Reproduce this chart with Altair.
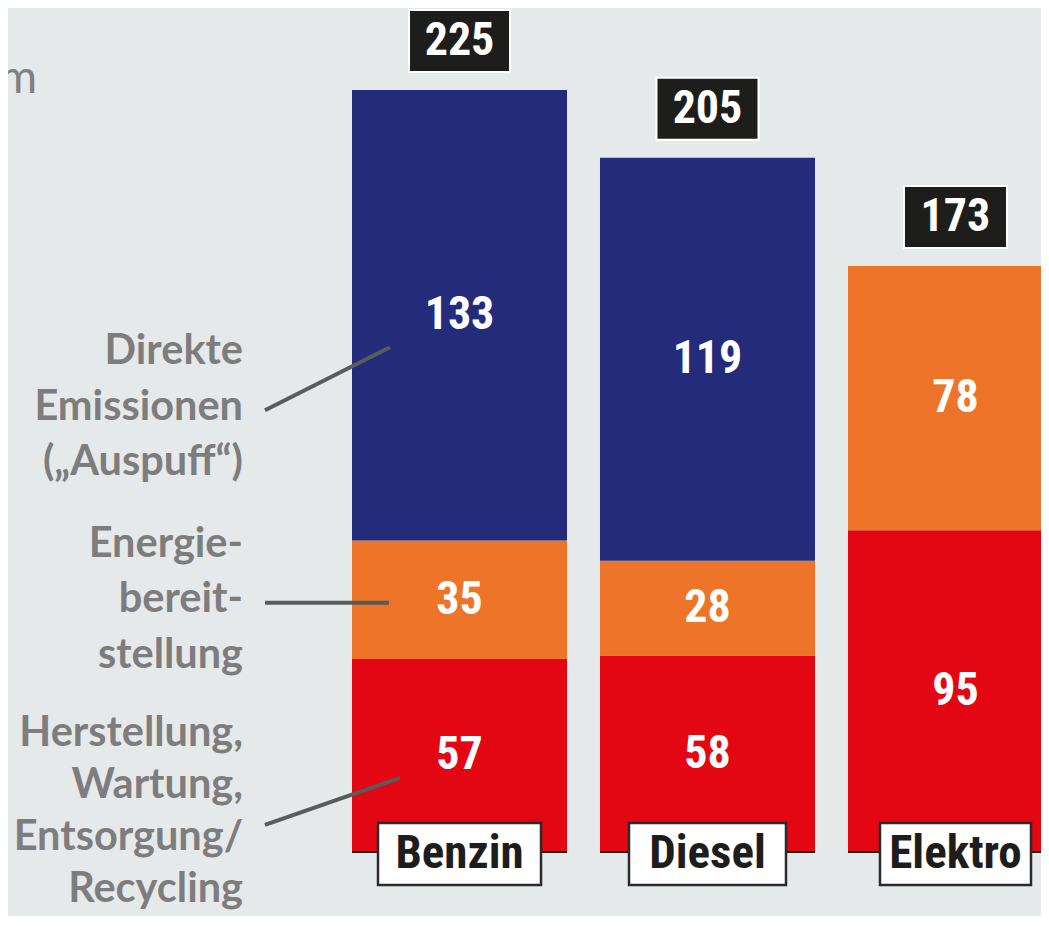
import altair as alt
import pandas as pd

# ---------------- data ----------------
categories = ["Benzin", "Diesel", "Elektro"]
herstellung = [57, 58, 95]      # Herstellung, Wartung, Entsorgung/Recycling
energie = [35, 28, 78]          # Energiebereitstellung
direkt = [133, 119, 0]          # Direkte Emissionen ("Auspuff")
totals = [225, 205, 173]
segment_names = ["Herstellung", "Energie", "Direkt"]

label_direkt = ["Direkte", "Emissionen", "(\u201eAuspuff\u201c)"]
label_energie = ["Energie-", "bereit-", "stellung"]
label_herst = ["Herstellung,", "Wartung,", "Entsorgung/", "Recycling"]
title_fragment = "CO\u2082-Emissionen in Gramm pro km"

# ---------------- tables ----------------
rows = []
for i, c in enumerate(categories):
    base = 0
    for name, vals in zip(segment_names, [herstellung, energie, direkt]):
        v = vals[i]
        if v > 0:
            rows.append(dict(cat=c, seg=name, start=base, end=base + v,
                             mid=base + v / 2, value=v))
        base += v
seg_df = pd.DataFrame(rows)
tot_df = pd.DataFrame(dict(cat=categories, total=totals, zero=[0] * len(categories)))

# ---------------- styles ----------------
BG = "#e6e9ea"
NARROW = "Liberation Sans Narrow, Roboto Condensed, DejaVu Sans Condensed, sans-serif"
LATO = "Lato, Open Sans, sans-serif"
GRAY = "#7d7d7d"
DARK = "#1d1d1b"

xs = alt.Scale(domain=categories, range=[344, 1055], paddingInner=0.133, paddingOuter=0)
ys = alt.Scale(domain=[0, 225], range=[844, 82])
X = alt.X("cat:N", scale=xs, axis=None)

bars = alt.Chart(seg_df).mark_bar().encode(
    x=X,
    y=alt.Y("start:Q", scale=ys, axis=None),
    y2="end:Q",
    color=alt.Color("seg:N", scale=alt.Scale(domain=segment_names,
                    range=["#e30613", "#ee7429", "#232b7a"]), legend=None),
)

seg_text = alt.Chart(seg_df).mark_text(
    font=NARROW, fontWeight="bold", fontSize=46, color="white", baseline="middle"
).encode(x=X, y=alt.Y("mid:Q", scale=ys), text="value:Q")

baseline = alt.Chart(tot_df).mark_bar(color=DARK, yOffset=-1, y2Offset=1).encode(
    x=X, y=alt.Y("zero:Q", scale=ys), y2="zero:Q"
)

cat_box = alt.Chart(tot_df).mark_bar(
    fill="white", stroke="#2b2b2b", strokeWidth=2.5, yOffset=-29, y2Offset=33
).encode(
    x=X, y=alt.Y("zero:Q", scale=ys), y2="zero:Q",
    size=alt.Size("cat:O", scale=alt.Scale(domain=categories, range=[163, 151, 164]), legend=None),
)
cat_text = alt.Chart(tot_df).mark_text(
    font=NARROW, fontWeight="bold", fontSize=47, color=DARK, baseline="middle", dy=2
).encode(x=X, y=alt.Y("zero:Q", scale=ys), text="cat:N")

tot_box = alt.Chart(tot_df).mark_bar(
    fill=DARK, stroke="white", strokeWidth=2, yOffset=-80, y2Offset=-18
).encode(
    x=X, y=alt.Y("total:Q", scale=ys), y2="total:Q",
    size=alt.Size("cat:O", scale=alt.Scale(domain=categories, range=[101, 103, 93]), legend=None),
)
tot_text = alt.Chart(tot_df).mark_text(
    font=NARROW, fontWeight="bold", fontSize=46, color="white", baseline="middle", dy=-49
).encode(x=X, y=alt.Y("total:Q", scale=ys), text="total:Q")

# annotations anchored on the Benzin segments
bz = seg_df[seg_df.cat == categories[0]].set_index("seg")["mid"]
ann_layers = []
for seg, lines, dy, lh, o1, o2, xend in [
    ("Direkt", label_direkt, 37, 55.5, 95, 32, 382),
    ("Energie", label_energie, -55, 55.5, 3, 3, 381),
    ("Herstellung", label_herst, -21.5, 52, 69.5, 22.5, 392),
]:
    adf = pd.DataFrame({"a": [bz[seg]]})
    ann_layers.append(
        alt.Chart(adf).mark_text(
            text=lines, align="right", baseline="middle", dy=dy, lineHeight=lh,
            font=LATO, fontWeight="bold", fontSize=41.5, color=GRAY
        ).encode(x=alt.value(235), y=alt.Y("a:Q", scale=ys))
    )
    ann_layers.append(
        alt.Chart(adf).mark_rule(color="#5b5b5b", strokeWidth=4, yOffset=o1, y2Offset=o2).encode(
            x=alt.value(257), x2=alt.value(xend), y=alt.Y("a:Q", scale=ys), y2="a:Q"
        )
    )

title = alt.Chart(pd.DataFrame({"t": [0]})).mark_text(
    text=title_fragment, align="right", baseline="alphabetic",
    font=LATO, fontSize=46, color="#808080"
).encode(x=alt.value(29), y=alt.value(85))

chart = alt.layer(
    bars, baseline, cat_box, cat_text, tot_box, tot_text, seg_text, title, *ann_layers
).resolve_scale(size="independent").properties(
    width=1033, height=908, background=BG, padding=0,
    autosize=alt.AutoSizeParams(type="none"),
).configure_view(stroke=None)

chart.save("out.html", embed_options={"renderer": "svg", "actions": False})
